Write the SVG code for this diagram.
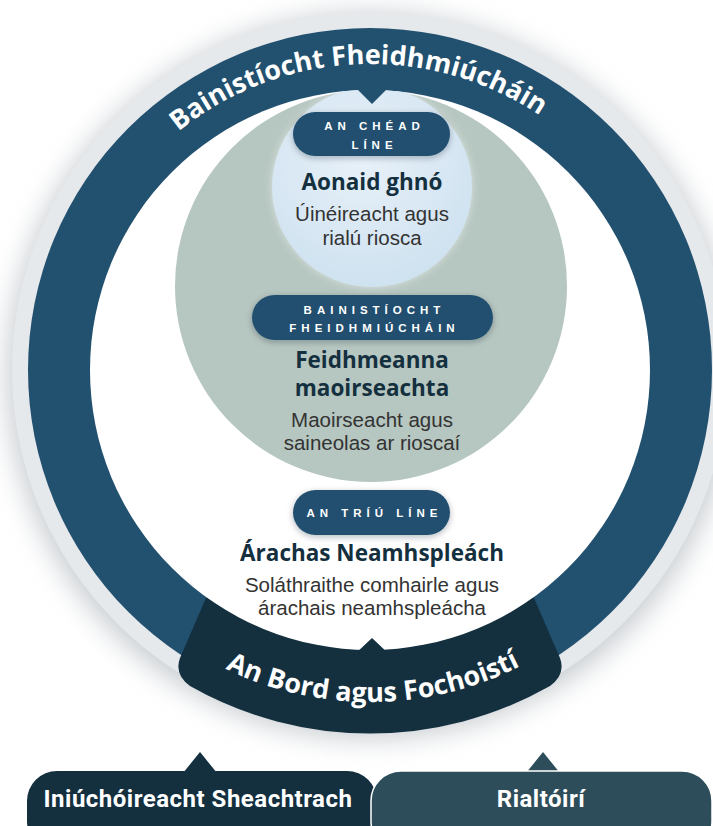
<svg xmlns="http://www.w3.org/2000/svg" width="713" height="826" viewBox="0 0 713 826">
<defs>
<filter id="blur" x="-20%" y="-20%" width="140%" height="140%"><feGaussianBlur stdDeviation="14"/></filter>
<filter id="sh" x="-20%" y="-50%" width="140%" height="220%"><feDropShadow dx="0" dy="2" stdDeviation="3" flood-color="#0b2030" flood-opacity="0.3"/></filter>
<filter id="glow" x="-20%" y="-20%" width="140%" height="140%"><feDropShadow dx="0" dy="0" stdDeviation="4" flood-color="#ffffff" flood-opacity="0.5"/></filter>
<radialGradient id="lb" cx="45%" cy="35%" r="65%"><stop offset="0" stop-color="#e8f1f9"/><stop offset="1" stop-color="#cfe2f0"/></radialGradient>
<clipPath id="inner"><circle cx="370" cy="370" r="280"/></clipPath>
<path id="arcTop" d="M 64,370 A 306 306 0 0 1 676,370"/>
<path id="arcBot" d="M 38,370 A 332 332 0 0 0 702,370"/>
<style>
.arc{font-family:"Open Sans","Liberation Sans",sans-serif;font-weight:700;font-size:27px;fill:#ffffff}
.pill{fill:#22506f}
.ptxt{font-family:"Liberation Sans","Open Sans",sans-serif;font-weight:700;font-size:11.5px;letter-spacing:5px;fill:#ffffff;text-anchor:middle}
.title{font-family:"Open Sans","Liberation Sans",sans-serif;font-weight:700;font-size:22.5px;fill:#14303f;text-anchor:middle}
.body{font-family:"Liberation Sans","Open Sans",sans-serif;font-size:20.5px;fill:#333333;text-anchor:middle}
.btxt{font-family:Roboto,"Liberation Sans",sans-serif;font-weight:700;font-size:24px;letter-spacing:0.5px;fill:#ffffff;text-anchor:middle}
</style>
</defs>
<rect width="713" height="826" fill="#ffffff"/>
<g id="rim">
<circle cx="370" cy="376" r="362" fill="#8d979f" opacity="0.5" filter="url(#blur)"/>
<circle cx="370" cy="370" r="358" fill="#e6e9ec"/>
</g>
<g id="ring-mgmt">
<circle cx="370" cy="370" r="342" fill="#22506f"/>
</g>
<g id="board-banner">
<path d="M 206,598 L 180,658 Q 174,674 190,686 A 365 365 0 0 0 550,686 Q 566,674 560,658 L 534,598 Z" fill="#14303f"/>
</g>
<circle cx="370" cy="370" r="280" fill="#ffffff"/>
<g clip-path="url(#inner)">
<g id="second-line-circle"><circle cx="371" cy="286" r="196" fill="#b6c6c0"/></g>
<g id="first-line-circle"><circle cx="372" cy="187" r="100" fill="url(#lb)" filter="url(#glow)"/></g>
</g>
<g id="connectors">
<polygon points="354,86 390,86 372,104" fill="#22506f"/>
<polygon points="354,655 372,638 390,655" fill="#14303f"/>
<polygon points="183,773 200,752 217,773" fill="#14303f"/>
<polygon points="526,773 543,752 560,773" fill="#2e4d5a"/>
</g>
<text class="arc"><textPath href="#arcTop" startOffset="48.6%" text-anchor="middle">Bainistíocht Fheidhmiúcháin</textPath></text>
<text class="arc"><textPath href="#arcBot" startOffset="50.3%" text-anchor="middle">An Bord agus Fochoistí</textPath></text>
<g id="first-line">
<rect class="pill" x="293" y="112" width="157" height="44" rx="22" filter="url(#sh)"/>
<text class="ptxt" x="374.5" y="130">AN CHÉAD</text>
<text class="ptxt" x="374.5" y="149">LÍNE</text>
<text class="title" x="372" y="190">Aonaid ghnó</text>
<text class="body" x="372" y="221">Úinéireacht agus</text>
<text class="body" x="372" y="245">rialú riosca</text>
</g>
<g id="second-line">
<rect class="pill" x="252" y="295" width="241" height="45" rx="22.5" filter="url(#sh)"/>
<text class="ptxt" x="374.5" y="314">BAINISTÍOCHT</text>
<text class="ptxt" x="374.5" y="332">FHEIDHMIÚCHÁIN</text>
<text class="title" x="372" y="368">Feidhmeanna</text>
<text class="title" x="372" y="396">maoirseachta</text>
<text class="body" x="372" y="427">Maoirseacht agus</text>
<text class="body" x="372" y="450">saineolas ar rioscaí</text>
</g>
<g id="third-line">
<rect class="pill" x="293" y="490" width="157" height="45" rx="22.5" filter="url(#sh)"/>
<text class="ptxt" x="374.5" y="517">AN TRÍÚ LÍNE</text>
<text class="title" x="372" y="561">Árachas Neamhspleách</text>
<text class="body" x="372" y="592">Soláthraithe comhairle agus</text>
<text class="body" x="372" y="615">árachais neamhspleácha</text>
</g>
<g id="external-audit">
<rect x="27" y="771" width="350" height="80" rx="30" fill="#14303f"/>
<text class="btxt" x="198" y="807">Iniúchóireacht Sheachtrach</text>
</g>
<g id="regulators">
<rect x="371" y="771" width="341" height="80" rx="30" fill="#2e4d5a" stroke="#ffffff" stroke-width="1.5"/>
<text class="btxt" x="541" y="807">Rialtóirí</text>
</g>
</svg>
